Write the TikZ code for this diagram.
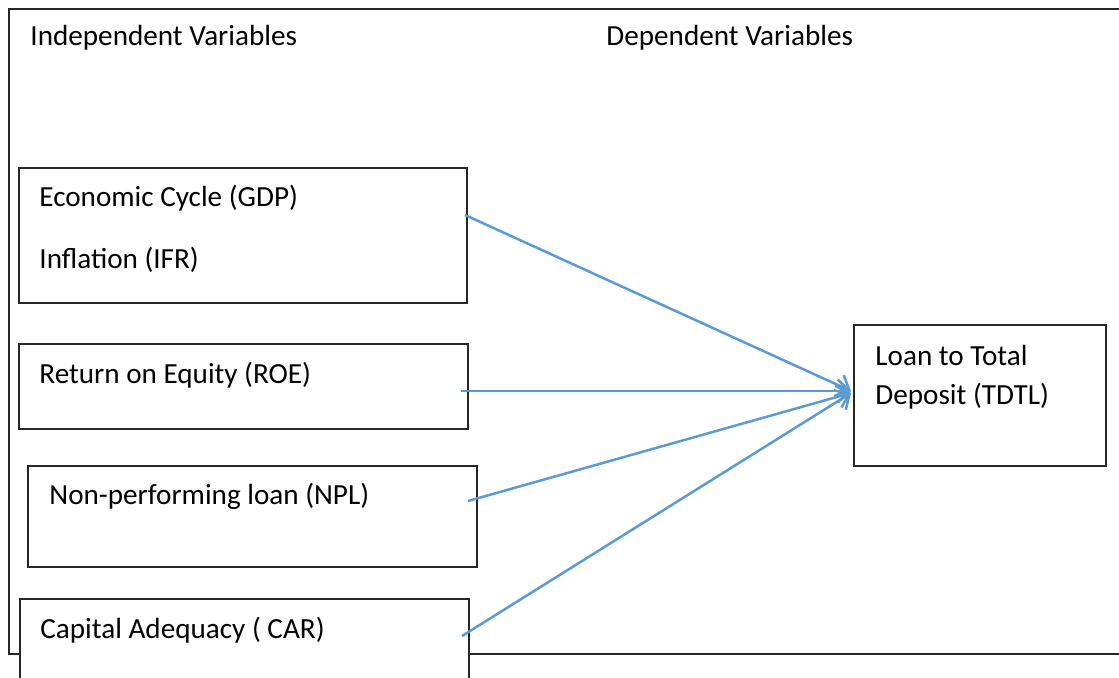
\documentclass[tikz,border=0pt]{standalone}
\usepackage{fontspec}
\setmainfont{Carlito}
\usetikzlibrary{arrows.meta}
\definecolor{arrowblue}{HTML}{5B9BD5}
\begin{document}
\begin{tikzpicture}[x=0.48pt,y=-0.48pt,
  box/.style={draw=black!85,line width=0.7pt,rectangle,inner sep=0pt},
  lbl/.style={anchor=west,inner sep=0pt,font=\fontsize{14pt}{17pt}\selectfont},
  link/.style={draw=arrowblue,line width=1.2pt,-{Straight Barb[length=5.5pt,width=11pt,line width=1.2pt]}}]
\useasboundingbox (0,0) rectangle (1119,678);
% outer frame
\draw[black!85,line width=0.7pt] (1130,9) -- (9,9) -- (9,654) -- (1130,654);
% headings
\node[lbl] (hi) at (30,38) {Independent Variables};
\node[lbl] (hd) at (606,38) {Dependent Variables};
% boxes
\node[box,fill=white,minimum width=448*0.48pt,minimum height=135*0.48pt] (b1) at (243,235.5) {};
\node[box,fill=white,minimum width=449*0.48pt,minimum height=85*0.48pt] (b2) at (243.5,386.5) {};
\node[box,fill=white,minimum width=449*0.48pt,minimum height=101*0.48pt] (b3) at (252.5,516.5) {};
\node[box,fill=white,minimum width=449*0.48pt,minimum height=100*0.48pt] (b4) at (244.5,649) {};
\node[box,fill=white,minimum width=252*0.48pt,minimum height=141*0.48pt] (t) at (980,395.5) {};
% texts
\node[lbl] (b1a) at (39,198) {Economic Cycle (GDP)};
\node[lbl] (b1b) at (39,260) {Inflation (IFR)};
\node[lbl] (b2a) at (39,375) {Return on Equity (ROE)};
\node[lbl] (b3a) at (49,496) {Non-performing loan (NPL)};
\node[lbl] (b4a) at (40,630) {Capital Adequacy ( CAR)};
\node[lbl] (ta) at (875,355) {Loan to Total};
\node[lbl] (tb) at (875,396) {Deposit (TDTL)};
% connector ends
\coordinate (s1) at (465,215);
\coordinate (s2) at (461,391);
\coordinate (s3) at (468,501);
\coordinate (s4) at (462,636);
\coordinate (e) at (851,391);
\coordinate (e2) at (851,393);
\draw[link] (s1) -- (e);
\draw[link] (s2) -- (e);
\draw[link] (s3) -- (e2);
\draw[link] (s4) -- (e2);
\end{tikzpicture}
\end{document}
